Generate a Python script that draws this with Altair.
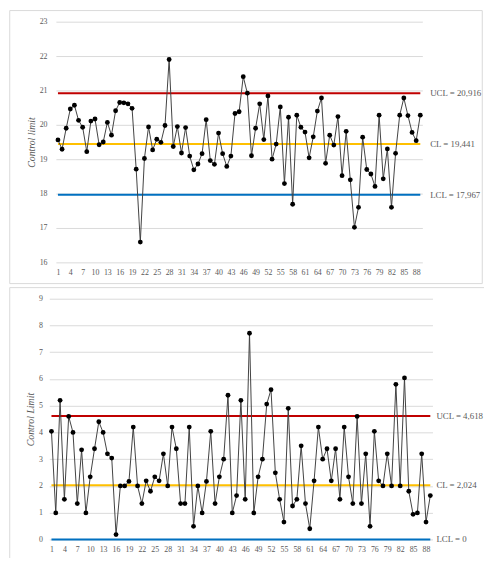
import altair as alt
import pandas as pd

idx = list(range(1, 90))

x_vals = [19.56, 19.29, 19.90, 20.46, 20.57, 20.13, 19.93, 19.22, 20.11, 20.17,
          19.42, 19.50, 20.07, 19.70, 20.41, 20.65, 20.64, 20.61, 20.48, 18.71,
          16.59, 19.02, 19.94, 19.27, 19.58, 19.49, 19.98, 21.90, 19.37, 19.95,
          19.18, 19.92, 19.09, 18.69, 18.86, 19.16, 20.15, 18.96, 18.85, 19.76,
          19.16, 18.79, 19.09, 20.33, 20.38, 21.40, 20.92, 19.10, 19.90, 20.61,
          19.57, 20.84, 19.00, 19.44, 20.52, 18.29, 20.22, 17.69, 20.28, 19.93,
          19.79, 19.04, 19.65, 20.40, 20.78, 18.88, 19.70, 19.41, 20.24, 18.52,
          19.81, 18.40, 17.02, 17.60, 19.64, 18.70, 18.57, 18.21, 20.28, 18.43,
          19.30, 17.60, 19.17, 20.28, 20.78, 20.27, 19.78, 19.54, 20.28]

mr_vals = [4.04, 0.99, 5.20, 1.50, 4.60, 4.00, 1.34, 3.35, 0.99, 2.34,
           3.39, 4.40, 4.00, 3.20, 3.04, 0.18, 2.00, 2.00, 2.17, 4.20,
           2.00, 1.34, 2.19, 1.80, 2.34, 2.19, 3.20, 2.00, 4.20, 3.39,
           1.34, 1.34, 4.20, 0.49, 2.00, 0.99, 2.17, 4.04, 1.34, 2.34,
           3.00, 5.39, 0.99, 1.64, 5.20, 1.50, 7.71, 0.99, 2.34, 3.00,
           5.06, 5.60, 2.49, 1.50, 0.65, 4.90, 1.25, 1.50, 3.50, 1.34,
           0.40, 2.19, 4.20, 3.00, 3.39, 2.19, 3.39, 1.50, 4.20, 2.34,
           1.34, 4.60, 1.34, 3.20, 0.49, 4.04, 2.19, 2.00, 3.20, 2.00,
           5.80, 2.00, 6.04, 1.80, 0.94, 0.99, 3.20, 0.65, 1.64]

x_limits = [20.916, 19.441, 17.967]
x_limit_labels = ["UCL = 20,916", "CL = 19,441", "LCL = 17,967"]
mr_limits = [4.618, 2.024, 0.0]
mr_limit_labels = ["UCL = 4,618", "CL = 2,024", "LCL = 0"]
limit_colors = ["#C00000", "#FFC000", "#0070C0"]

x_ticks = list(range(1, 89, 3))
top_y_ticks = list(range(16, 24))
bot_y_ticks = list(range(0, 10))

FONT = "Liberation Serif"
GRAY = "#595959"


def panel(values, limits, labels, yticks, ydomain, title, w, h,
          lab_pad, title_pad, text_gap, box):
    df = pd.DataFrame({"i": idx, "v": values})
    lim = pd.DataFrame({"v": limits, "label": labels, "c": limit_colors,
                        "i": [1] * 3, "x2": [89] * 3})
    xs = alt.Scale(domain=[0.5, 89.5], nice=False, zero=False)
    ys = alt.Scale(domain=ydomain, nice=False, zero=False)
    xax = alt.Axis(values=x_ticks, grid=False, domain=False, ticks=False,
                   tickSize=0, labelPadding=6, labelFont=FONT, labelFontSize=8,
                   labelColor=GRAY, labelAngle=0, labelFlush=False,
                   labelOverlap=False)
    yax = alt.Axis(values=yticks, grid=True, gridColor="#D9D9D9", gridWidth=1,
                   domain=False, ticks=False, tickSize=0, labelPadding=lab_pad,
                   labelFont=FONT, labelFontSize=8, labelColor=GRAY,
                   titleFont=FONT, titleFontSize=10, titleFontStyle="italic",
                   titleFontWeight="normal", titleColor=GRAY,
                   titlePadding=title_pad)

    X = alt.X("i:Q", scale=xs, axis=xax, title="")
    Y = alt.Y("v:Q", scale=ys, axis=yax, title=title)

    border = alt.Chart(pd.DataFrame({"a": [0]})).mark_rect(
        fillOpacity=0, stroke="#D9D9D9", strokeWidth=1
    ).encode(x=alt.value(box[0]), x2=alt.value(box[1]),
             y=alt.value(box[2]), y2=alt.value(box[3]))

    line = alt.Chart(df).mark_line(color="#404040", strokeWidth=1).encode(
        x=X, y=Y)
    rules = alt.Chart(lim).mark_rule(strokeWidth=2).encode(
        x=X, x2="x2:Q", y=Y,
        color=alt.Color("c:N", scale=None),
    )
    pts = alt.Chart(df).mark_circle(color="black", size=24, opacity=1).encode(
        x=X, y=Y)
    txt = alt.Chart(lim).mark_text(
        align="left", baseline="middle", font=FONT, fontSize=9, color=GRAY
    ).encode(
        x=alt.value(w + text_gap),
        y=Y,
        text="label:N",
    )
    return alt.layer(border, rules, line, pts, txt).properties(width=w, height=h)


top = panel(x_vals, x_limits, x_limit_labels, top_y_ticks, [16, 23],
            "Control limit", 373, 245, 9, 3, 8, (-47, 434, -11.3, 266.6))
bottom = panel(mr_vals, mr_limits, mr_limit_labels, bot_y_ticks, [0, 9],
               "Control Limit", 390, 245, 7, 3, 4, (-40.3, 447.4, -11.3, 266))

chart = alt.vconcat(top, bottom, spacing=2, center=True).configure_view(
    strokeWidth=0
).properties(padding={"left": 1, "top": -3, "right": -5.5, "bottom": -8},
             background="white")

chart.save("out.html", embed_options={"renderer": "svg", "actions": False})
